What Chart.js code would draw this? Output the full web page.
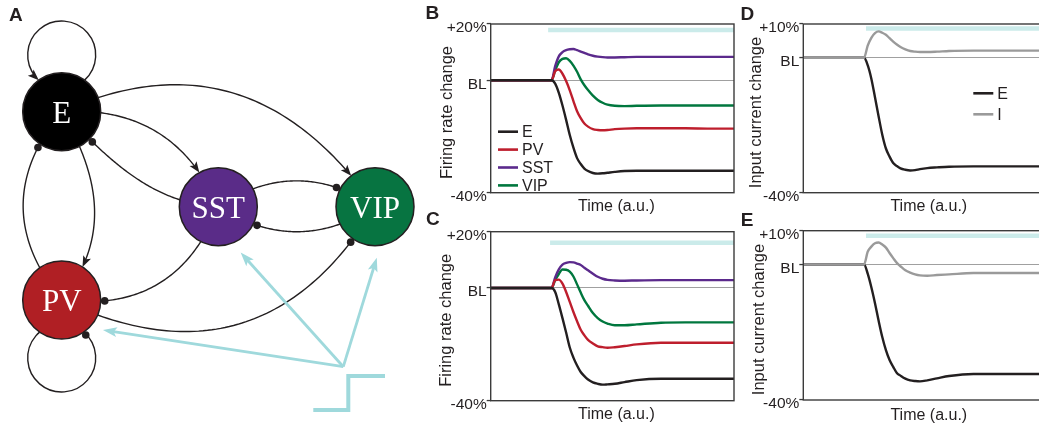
<!DOCTYPE html>
<html><head><meta charset="utf-8">
<script src="https://cdn.jsdelivr.net/npm/chart.js@4.4.1/dist/chart.umd.min.js"></script>
<style>
html,body{margin:0;padding:0;background:#fff;}
body{width:1039px;height:425px;overflow:hidden;position:relative;font-family:"Liberation Sans",Arial,sans-serif;}
canvas{position:absolute;}
.lbl{position:absolute;font-weight:bold;font-size:19px;line-height:19px;color:#231f20;}
</style></head><body>
<canvas id="cA" width="420" height="425" style="left:0;top:0;width:420px;height:425px"></canvas>
<canvas id="cB" width="320" height="215" style="left:420px;top:0;width:320px;height:215px"></canvas>
<canvas id="cC" width="320" height="215" style="left:420px;top:210px;width:320px;height:215px"></canvas>
<canvas id="cD" width="320" height="215" style="left:735px;top:0;width:320px;height:215px"></canvas>
<canvas id="cE" width="320" height="215" style="left:735px;top:210px;width:320px;height:215px"></canvas>
<div class="lbl" style="left:9px;top:4.6px">A</div>
<div class="lbl" style="left:425.6px;top:3px">B</div>
<div class="lbl" style="left:426px;top:209px">C</div>
<div class="lbl" style="left:740.5px;top:4px">D</div>
<div class="lbl" style="left:740.7px;top:210px">E</div>
<script>
// ---------------- DATA ----------------
const timeGrid = [0, 25, 26.5, 28, 29.5, 31, 32.5, 34, 35.5, 37, 38.5, 40, 42, 44, 46, 48, 51, 55, 60, 70, 80, 90, 100];

// Panel B: firing rate change (%)
const bE   = [0,0,-1.2,-4.5,-9.0,-14.1,-19.5,-24.0,-27.7,-29.8,-31.4,-32.3,-33.0,-33.2,-33.1,-32.9,-32.6,-32.3,-32.2,-32.2,-32.2,-32.2,-32.2];
const bPV  = [0,0,3.2,3.8,2.3,-0.3,-3.6,-7.4,-11.0,-13.5,-15.4,-16.5,-17.4,-17.7,-17.8,-17.7,-17.4,-17.2,-17.1,-17.1,-17.1,-17.2,-17.2];
const bSST = [0,0,5.0,8.5,10.0,10.7,11.0,11.1,10.7,10.2,9.7,9.2,8.7,8.4,8.2,8.1,8.1,8.2,8.3,8.3,8.3,8.3,8.3];
const bVIP = [0,0,3.5,6.4,7.6,7.8,6.9,5.2,3.0,0.3,-1.8,-3.5,-5.5,-7.0,-8.0,-8.7,-9.1,-9.2,-9.1,-9.0,-9.0,-9.0,-9.0];

// Panel C: firing rate change (%)
const cE   = [0,0,-1.4,-5.8,-10.7,-15.8,-21.1,-24.7,-27.5,-29.8,-31.3,-32.5,-33.5,-34.0,-34.3,-34.2,-34.0,-33.4,-32.7,-32.2,-32.2,-32.2,-32.2];
const cPV  = [0,0,2.8,3.0,1.6,-1.4,-4.9,-8.5,-11.8,-14.8,-16.8,-18.4,-19.7,-20.7,-21.0,-21.2,-21.0,-20.6,-20.0,-19.4,-19.4,-19.4,-19.4];
const cSST = [0,0,3.8,6.6,8.3,8.9,9.2,9.1,8.7,8.2,7.2,6.3,5.1,4.0,3.3,2.9,2.7,2.6,2.7,2.8,2.8,2.8,2.8];
const cVIP = [0,0,2.8,5.0,6.6,6.5,5.8,4.1,1.3,-1.6,-4.3,-6.3,-8.9,-10.7,-11.9,-12.6,-13.2,-13.2,-12.9,-12.3,-12.2,-12.2,-12.2];

// Panel D: input current change (%)
const dE = [0,0,-2.2,-6.2,-11.7,-17.4,-22.8,-26.9,-29.3,-31.2,-32.1,-32.8,-33.2,-33.4,-33.3,-33.0,-32.7,-32.5,-32.3,-32.2,-32.2,-32.2,-32.2];
const dI = [0,0,3.6,5.9,7.3,7.8,7.4,6.8,5.8,4.8,3.9,3.2,2.5,2.0,1.8,1.7,1.7,1.8,2.0,2.1,2.1,2.1,2.1];

// Panel E: input current change (%)
const eE = [0,0,-2.7,-6.7,-11.4,-16.6,-21.4,-25.3,-28.2,-30.2,-32.0,-32.8,-33.7,-34.2,-34.4,-34.5,-34.2,-33.6,-32.9,-32.3,-32.3,-32.3,-32.3];
const eI = [0,0,3.8,5.3,6.3,6.5,5.9,5.0,3.4,1.9,0.5,-0.5,-1.7,-2.4,-2.9,-3.2,-3.3,-3.1,-2.9,-2.5,-2.5,-2.5,-2.5];

// Stimulus bars (start time, level) per panel
const stimStart = {B: 23.6, C: 24.4, D: 25.8, E: 25.8};
const stimLevel = {B: 17.9, C: 16.1, D: 8.7, E: 8.5};

// Tick values / labels
const frTickValues = [20, 0, -40];
const frTickLabels = ['+20%', 'BL', '-40%'];
const icTickValues = [10, 0, -40];
const icTickLabels = ['+10%', 'BL', '-40%'];

// Network (panel A)
const nodeNames = ['E', 'PV', 'SST', 'VIP'];
const nodeX = [61.7, 61.7, 218.3, 375];
const nodeY = [111.7, 300, 206.7, 206.7];
const edgeFrom = ['E',   'SST', 'E',   'E',   'PV',  'SST', 'VIP', 'SST', 'PV'];
const edgeTo   = ['SST', 'E',   'VIP', 'PV',  'E',   'VIP', 'SST', 'PV',  'VIP'];
const edgeType = ['exc', 'inh', 'exc', 'exc', 'inh', 'inh', 'inh', 'inh', 'inh'];
const selfLoops = ['E', 'PV'];
const selfLoopType = ['exc', 'inh'];
const stimTargets = ['SST', 'VIP', 'PV'];

// ---------------- STYLE / LAYOUT ----------------
const FONT = '"Liberation Sans", Arial, sans-serif';
const TXT = '#231f20';
const COL = {E: '#231f20', PV: '#be1e2d', SST: '#5b2a8c', VIP: '#00773e', I: '#9a9a9a'};
const NODE_COL = {E: '#000000', PV: '#b01f24', SST: '#5a2c88', VIP: '#077441'};
const STIM_COL = '#cbebea';
const CYAN = '#9fd9dc';
const NODE_R = 39;
const edgeBend = [[0.233,0.233],[0.18,0.08],[0.29,0.26],[0.196,0.267],[0.273,0.273],[0.22,0.22],[0.213,0.213],[0.26,0.26],[-0.3,-0.3]];
const loopDir = {E: -Math.PI/2, PV: Math.PI/2};
const loopDist = {E: 56.7, PV: 58};
const loopR = 34;
const stimSource = {x: 343.3, y: 366.7};
const stimAngleDeg = {SST: 64, VIP: 88, PV: 36};

// ---------------- LINE PANELS ----------------
const framePlugin = {
  id: 'frame',
  afterDatasetsDraw(chart) {
    const {ctx, chartArea: a} = chart;
    ctx.save();
    ctx.strokeStyle = '#3b3b3b'; ctx.lineWidth = 1.4;
    ctx.strokeRect(a.left, a.top, a.right - a.left, a.bottom - a.top);
    ctx.restore();
  }
};

function legendPlugin(items, ox, oy, gap) {
  return {
    id: 'inlineLegend',
    afterDraw(chart) {
      if (!items) return;
      const {ctx, chartArea: a} = chart;
      ctx.save();
      ctx.font = '16px ' + FONT; ctx.textBaseline = 'middle'; ctx.fillStyle = TXT;
      items.forEach((it, i) => {
        const y = a.top + oy + i * gap;
        ctx.strokeStyle = it.color; ctx.lineWidth = 2.6;
        ctx.beginPath(); ctx.moveTo(a.left + ox, y); ctx.lineTo(a.left + ox + 20, y); ctx.stroke();
        ctx.fillText(it.label, a.left + ox + 24, y + 1);
      });
      ctx.restore();
    }
  };
}

function makePanel(id, cfg) {
  const datasets = cfg.series.map((s, i) => ({
    label: s.label,
    data: timeGrid.map((t, k) => ({x: t, y: s.values[k]})),
    borderColor: s.color, borderWidth: 2.4, pointRadius: 0, fill: false,
    cubicInterpolationMode: 'monotone', order: s.order != null ? s.order : i
  }));
  datasets.push({
    label: 'stim',
    data: [{x: cfg.stim[0], y: cfg.stim[1]}, {x: 100, y: cfg.stim[1]}],
    borderColor: STIM_COL, borderWidth: 4.5, pointRadius: 0, borderCapStyle: 'butt', order: 50
  });
  return new Chart(document.getElementById(id), {
    type: 'line',
    data: {datasets},
    options: {
      responsive: false, animation: false, events: [],
      layout: {padding: cfg.pad, autoPadding: false},
      scales: {
        x: {
          type: 'linear', min: 0, max: 100,
          ticks: {display: false}, grid: {display: false}, border: {display: false},
          title: {display: true, text: '\u2002Time (a.u.)', color: TXT, font: {family: FONT, size: 16, lineHeight: 1}, padding: {top: 0, bottom: cfg.xTitlePad}},
          afterFit: s => { s.height = cfg.xH; }
        },
        y: {
          type: 'linear', min: cfg.yMin, max: cfg.yMax,
          afterBuildTicks: s => { s.ticks = cfg.tickValues.map(v => ({value: v})); },
          ticks: {
            autoSkip: false, padding: 0, labelOffset: 4, color: TXT,
            font: {family: FONT, size: 15.5},
            callback: v => cfg.tickLabels[cfg.tickValues.indexOf(v)]
          },
          grid: {
            drawTicks: true, tickLength: 4, tickColor: '#3b3b3b', tickWidth: 1.3, lineWidth: 1.1,
            color: c => (c.tick && c.tick.value === 0) ? '#a0a0a0' : 'rgba(0,0,0,0)'
          },
          border: {display: false},
          title: {display: true, text: cfg.yTitle + '\u2002', color: TXT, font: {family: FONT, size: 16.5, lineHeight: 1}, padding: {top: cfg.yTitlePad, bottom: 0}},
          afterFit: s => { s.width = cfg.yW; }
        }
      },
      plugins: {legend: {display: false}, tooltip: {enabled: false}}
    },
    plugins: [framePlugin, legendPlugin(cfg.legend, cfg.legX, cfg.legY, cfg.legGap)]
  });
}

const frSeries = (E, PV, SST, VIP) => [
  {label: 'E', values: E, color: COL.E},
  {label: 'PV', values: PV, color: COL.PV},
  {label: 'SST', values: SST, color: COL.SST},
  {label: 'VIP', values: VIP, color: COL.VIP}
];

makePanel('cB', {
  series: frSeries(bE, bPV, bSST, bVIP), stim: [stimStart.B, stimLevel.B],
  yMin: -40, yMax: 20, tickValues: frTickValues, tickLabels: frTickLabels,
  yTitle: 'Firing rate change', pad: {top: 24, right: 6, bottom: 0, left: 0},
  xH: 22.3, yW: 70.7, xTitlePad: 0.5, yTitlePad: 19.3,
  legend: [{label: 'E', color: COL.E}, {label: 'PV', color: COL.PV}, {label: 'SST', color: COL.SST}, {label: 'VIP', color: COL.VIP}],
  legX: 7.3, legY: 107.7, legGap: 17.9
});
makePanel('cC', {
  series: frSeries(cE, cPV, cSST, cVIP), stim: [stimStart.C, stimLevel.C],
  yMin: -40, yMax: 20, tickValues: frTickValues, tickLabels: frTickLabels,
  yTitle: 'Firing rate change', pad: {top: 21.7, right: 6, bottom: 0, left: 0},
  xH: 24.3, yW: 70.7, xTitlePad: 2, yTitlePad: 18.3, legend: null
});
makePanel('cD', {
  series: [{label: 'E', values: dE, color: COL.E, order: 1}, {label: 'I', values: dI, color: COL.I, order: 0}],
  stim: [stimStart.D, stimLevel.D],
  yMin: -40, yMax: 10, tickValues: icTickValues, tickLabels: icTickLabels,
  yTitle: 'Input current change', pad: {top: 24, right: 8.7, bottom: 0, left: 0},
  xH: 22.3, yW: 68.3, xTitlePad: 0.5, yTitlePad: 13.3,
  legend: [{label: 'E', color: COL.E}, {label: 'I', color: COL.I}],
  legX: 170, legY: 69.3, legGap: 21
});
makePanel('cE', {
  series: [{label: 'E', values: eE, color: COL.E, order: 1}, {label: 'I', values: eI, color: COL.I, order: 0}],
  stim: [stimStart.E, stimLevel.E],
  yMin: -40, yMax: 10, tickValues: icTickValues, tickLabels: icTickLabels,
  yTitle: 'Input current change', pad: {top: 20.7, right: 8.7, bottom: 0, left: 0},
  xH: 25, yW: 68.3, xTitlePad: 1.5, yTitlePad: 15.8, legend: null
});

// ---------------- NETWORK PANEL ----------------
function bez(p0, p1, p2, p3, t) {
  const u = 1 - t;
  return {x: u*u*u*p0.x + 3*u*u*t*p1.x + 3*u*t*t*p2.x + t*t*t*p3.x,
          y: u*u*u*p0.y + 3*u*u*t*p1.y + 3*u*t*t*p2.y + t*t*t*p3.y};
}
function bezD(p0, p1, p2, p3, t) {
  const u = 1 - t;
  return {x: 3*u*u*(p1.x-p0.x) + 6*u*t*(p2.x-p1.x) + 3*t*t*(p3.x-p2.x),
          y: 3*u*u*(p1.y-p0.y) + 6*u*t*(p2.y-p1.y) + 3*t*t*(p3.y-p2.y)};
}
const dist = (a, b) => Math.hypot(a.x - b.x, a.y - b.y);
function norm(v) { const l = Math.hypot(v.x, v.y) || 1; return {x: v.x / l, y: v.y / l}; }

function arrowHead(ctx, tip, dir, len, wid, color) {
  const n = {x: -dir.y, y: dir.x};
  ctx.fillStyle = color;
  ctx.beginPath();
  ctx.moveTo(tip.x, tip.y);
  ctx.lineTo(tip.x - dir.x*len + n.x*wid/2, tip.y - dir.y*len + n.y*wid/2);
  ctx.lineTo(tip.x - dir.x*len*0.78, tip.y - dir.y*len*0.78);
  ctx.lineTo(tip.x - dir.x*len - n.x*wid/2, tip.y - dir.y*len - n.y*wid/2);
  ctx.closePath(); ctx.fill();
}
function dot(ctx, p, r, color) {
  ctx.fillStyle = color; ctx.beginPath(); ctx.arc(p.x, p.y, r, 0, Math.PI*2); ctx.fill();
}

function nodePos(chart, name) {
  const i = nodeNames.indexOf(name);
  return {x: chart.scales.x.getPixelForValue(nodeX[i]), y: chart.scales.y.getPixelForValue(nodeY[i])};
}

function edgeGeom(chart, k) {
  const A = nodePos(chart, edgeFrom[k]), B = nodePos(chart, edgeTo[k]);
  const d = {x: B.x - A.x, y: B.y - A.y}, len = Math.hypot(d.x, d.y);
  const u = {x: d.x / len, y: d.y / len}, n = {x: u.y, y: -u.x};
  const [b1, b2] = edgeBend[k];
  const C1 = {x: A.x + d.x/3 + n.x*b1*len, y: A.y + d.y/3 + n.y*b1*len};
  const C2 = {x: A.x + 2*d.x/3 + n.x*b2*len, y: A.y + 2*d.y/3 + n.y*b2*len};
  const P = t => bez(A, C1, C2, B, t);
  let lo = 0, hi = 0.5;
  for (let i = 0; i < 40; i++) { const m = (lo + hi) / 2; if (dist(P(m), A) < NODE_R) lo = m; else hi = m; }
  const t0 = hi;
  const endR = edgeType[k] === 'exc' ? NODE_R : NODE_R + 4;
  lo = 0.5; hi = 1;
  for (let i = 0; i < 40; i++) { const m = (lo + hi) / 2; if (dist(P(m), B) > endR) lo = m; else hi = m; }
  const t1 = lo;
  let tl = t1;
  if (edgeType[k] === 'exc') {
    lo = 0.5; hi = 1;
    for (let i = 0; i < 40; i++) { const m = (lo + hi) / 2; if (dist(P(m), B) > NODE_R + 6) lo = m; else hi = m; }
    tl = lo;
  }
  return {A, B, C1, C2, P, t0, t1, tl};
}

function loopGeom(chart, j) {
  const N = nodePos(chart, selfLoops[j]);
  const phi = loopDir[selfLoops[j]], D = loopDist[selfLoops[j]];
  const L = {x: N.x + Math.cos(phi)*D, y: N.y + Math.sin(phi)*D};
  const a = (D*D + loopR*loopR - NODE_R*NODE_R) / (2*D);
  const beta = Math.acos(a / loopR);
  const s = phi + Math.PI + beta, e = phi + 3*Math.PI - beta;
  return {N, L, s, e};
}

const networkPlugin = {
  id: 'network',
  beforeDatasetsDraw(chart) {
    const ctx = chart.ctx;
    ctx.save();
    ctx.strokeStyle = '#231f20'; ctx.lineWidth = 1.4; ctx.lineCap = 'butt';
    for (let k = 0; k < edgeFrom.length; k++) {
      const g = edgeGeom(chart, k);
      ctx.beginPath();
      const steps = 60;
      for (let i = 0; i <= steps; i++) {
        const p = g.P(g.t0 + (g.tl - g.t0) * i / steps);
        if (i === 0) ctx.moveTo(p.x, p.y); else ctx.lineTo(p.x, p.y);
      }
      ctx.stroke();
    }
    for (let j = 0; j < selfLoops.length; j++) {
      const g = loopGeom(chart, j);
      ctx.beginPath();
      ctx.arc(g.L.x, g.L.y, loopR, g.s + (selfLoopType[j] === 'exc' ? 0.12 : 0), g.e);
      ctx.stroke();
    }
    const S = {x: chart.scales.x.getPixelForValue(stimSource.x), y: chart.scales.y.getPixelForValue(stimSource.y)};
    ctx.strokeStyle = CYAN; ctx.lineWidth = 2.8;
    stimTargets.forEach(name => {
      const N = nodePos(chart, name), ang = stimAngleDeg[name] * Math.PI / 180;
      const tip = {x: N.x + Math.cos(ang)*(NODE_R + 12), y: N.y + Math.sin(ang)*(NODE_R + 12)};
      const dir = norm({x: tip.x - S.x, y: tip.y - S.y});
      ctx.beginPath(); ctx.moveTo(S.x, S.y); ctx.lineTo(tip.x - dir.x*9, tip.y - dir.y*9); ctx.stroke();
      arrowHead(ctx, tip, dir, 14, 10, CYAN);
    });
    ctx.lineWidth = 4; ctx.lineJoin = 'miter'; ctx.lineCap = 'butt';
    ctx.beginPath();
    ctx.moveTo(S.x - 30, S.y + 43.3); ctx.lineTo(S.x + 5, S.y + 43.3);
    ctx.lineTo(S.x + 5, S.y + 9.3); ctx.lineTo(S.x + 41.7, S.y + 9.3);
    ctx.stroke();
    ctx.restore();
  },
  afterDatasetsDraw(chart) {
    const ctx = chart.ctx;
    ctx.save();
    for (let k = 0; k < edgeFrom.length; k++) {
      const g = edgeGeom(chart, k);
      const tip = g.P(g.t1);
      if (edgeType[k] === 'exc') {
        const dir = norm(bezD(g.A, g.C1, g.C2, g.B, g.t1));
        arrowHead(ctx, tip, dir, 11, 8.5, '#231f20');
      } else {
        dot(ctx, tip, 3.8, '#231f20');
      }
    }
    for (let j = 0; j < selfLoops.length; j++) {
      const g = loopGeom(chart, j);
      const p = {x: g.L.x + Math.cos(g.s)*loopR, y: g.L.y + Math.sin(g.s)*loopR};
      if (selfLoopType[j] === 'exc') {
        arrowHead(ctx, p, norm({x: Math.sin(g.s), y: -Math.cos(g.s)}), 11, 8.5, '#231f20');
      } else {
        const away = norm({x: p.x - g.N.x, y: p.y - g.N.y});
        dot(ctx, {x: g.N.x + away.x*(NODE_R + 3.5), y: g.N.y + away.y*(NODE_R + 3.5)}, 3.8, '#231f20');
      }
    }
    ctx.fillStyle = '#ffffff'; ctx.textAlign = 'center'; ctx.textBaseline = 'alphabetic';
    ctx.font = '31px "Liberation Serif", "Times New Roman", serif';
    nodeNames.forEach(name => {
      const p = nodePos(chart, name);
      ctx.fillText(name, p.x, p.y + 11);
    });
    ctx.restore();
  }
};

new Chart(document.getElementById('cA'), {
  type: 'scatter',
  data: {datasets: [{
    label: 'populations',
    data: nodeNames.map((n, i) => ({x: nodeX[i], y: nodeY[i]})),
    pointRadius: NODE_R, pointHoverRadius: NODE_R,
    pointBackgroundColor: nodeNames.map(n => NODE_COL[n]),
    pointBorderColor: '#231f20', pointBorderWidth: 1.5, clip: false
  }]},
  options: {
    responsive: false, animation: false, events: [],
    layout: {padding: 0, autoPadding: false},
    scales: {
      x: {type: 'linear', display: false, min: 0, max: 420},
      y: {type: 'linear', display: false, min: 0, max: 425, reverse: true}
    },
    plugins: {legend: {display: false}, tooltip: {enabled: false}}
  },
  plugins: [networkPlugin]
});
</script>
</body></html>
